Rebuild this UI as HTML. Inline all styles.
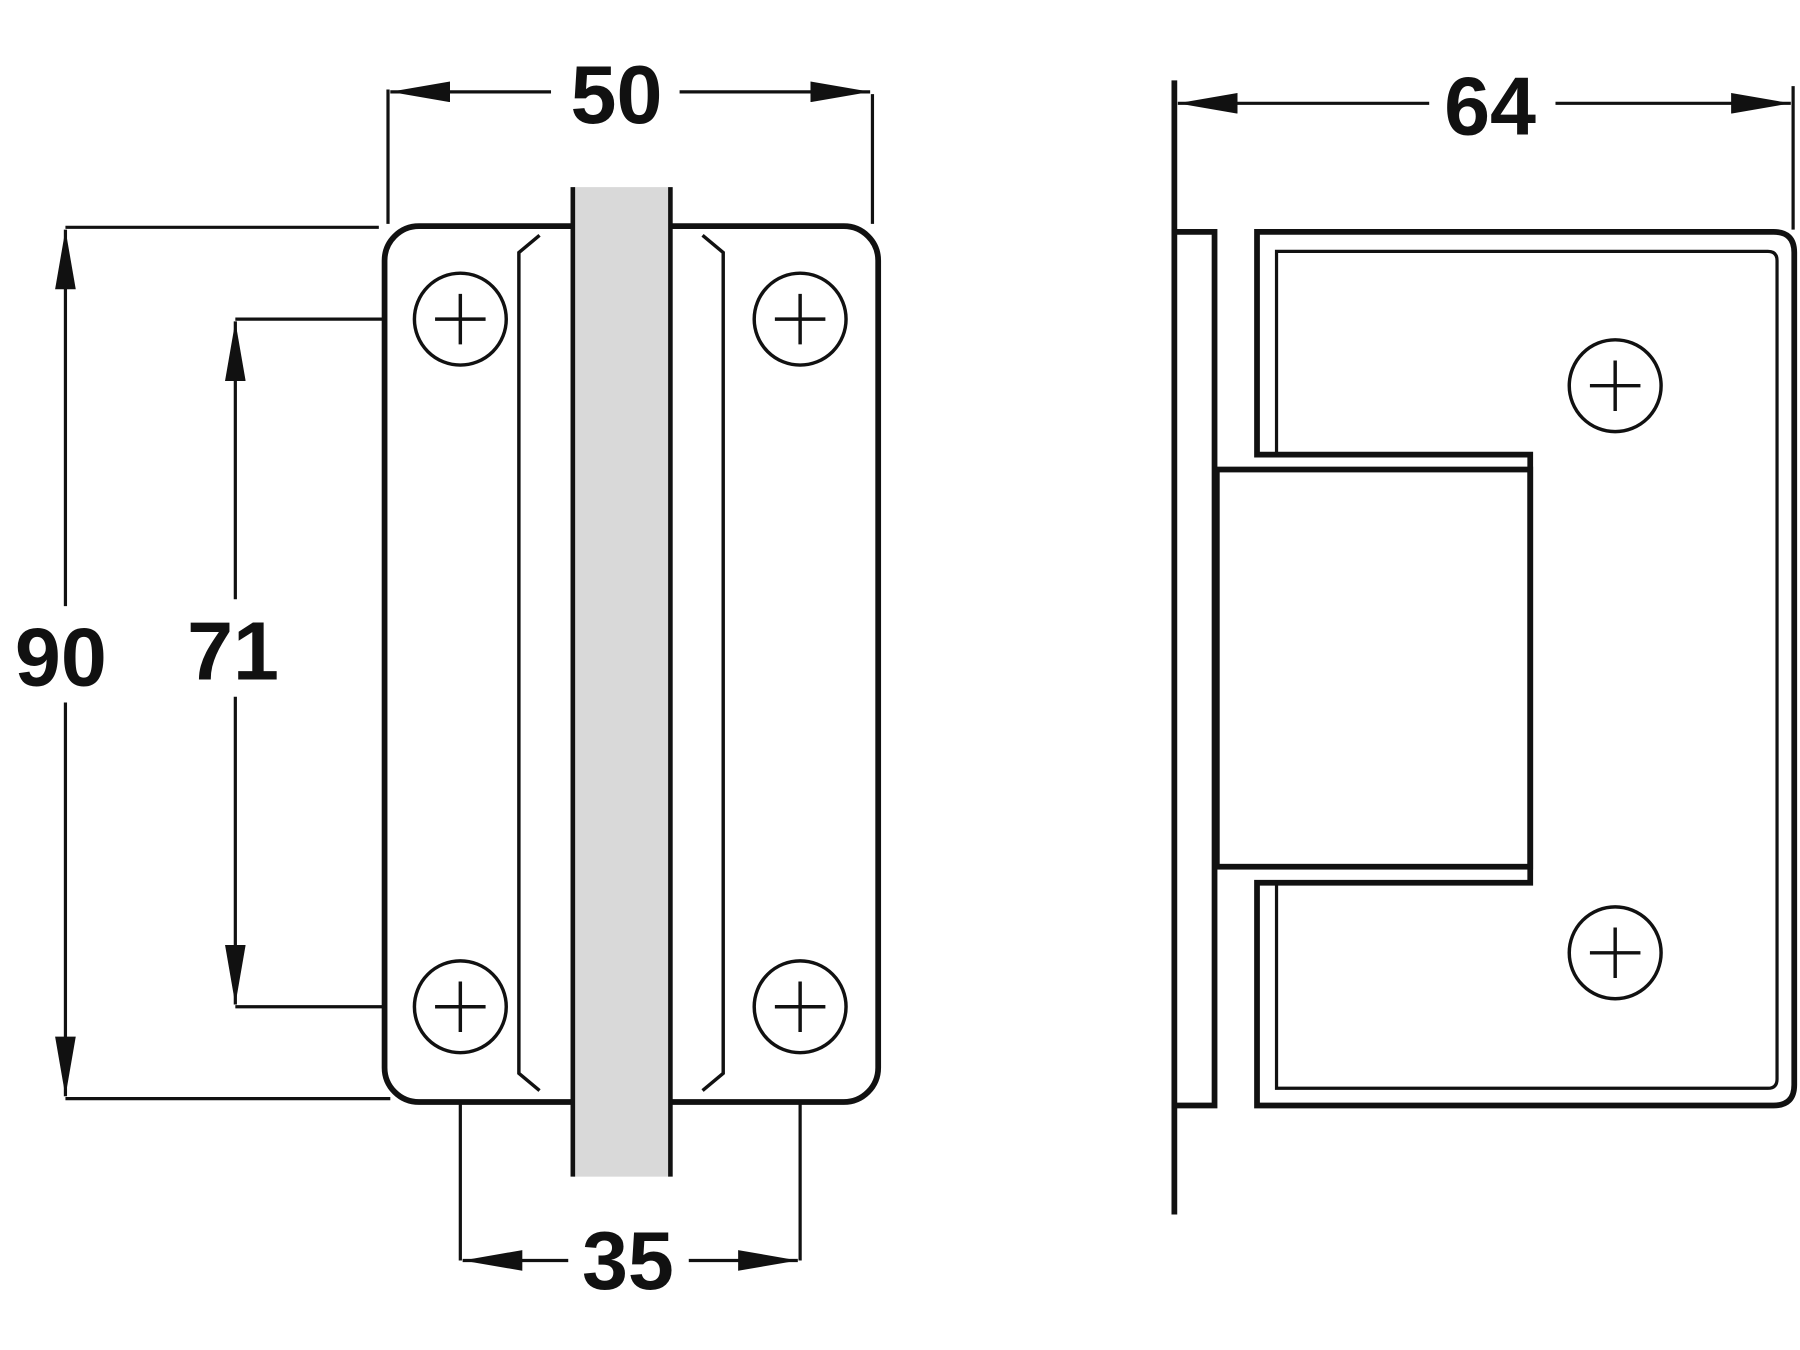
<!DOCTYPE html>
<html><head><meta charset="utf-8"><style>
html,body{margin:0;padding:0;background:#fff;}
svg{display:block;}
text{font-family:"Liberation Sans",sans-serif;font-weight:bold;fill:#111;}
</style></head><body>
<svg width="1800" height="1350" viewBox="0 0 1568 1176" xmlns="http://www.w3.org/2000/svg">
<defs>
<marker id="a" viewBox="0 0 52 18" refX="52" refY="9" markerWidth="52" markerHeight="18" markerUnits="userSpaceOnUse" orient="auto-start-reverse"><path d="M0,0 L52,9 L0,18 Z" fill="#111"/></marker>
<g id="scr"><circle r="40" fill="#fff" stroke="#111" stroke-width="3"/><path d="M-22,0H22M0,-22V22" stroke="#111" stroke-width="3"/></g>
</defs>
<g stroke="#111" fill="none" stroke-width="2.8">
<line x1="338" y1="78" x2="338" y2="195"/><line x1="760" y1="82" x2="760" y2="195"/>
<line x1="340" y1="80" x2="480" y2="80" marker-start="url(#a)"/>
<line x1="592" y1="80" x2="758" y2="80" marker-end="url(#a)"/>
<line x1="57" y1="198" x2="330" y2="198"/><line x1="57" y1="957" x2="340" y2="957"/>
<line x1="57" y1="200" x2="57" y2="528" marker-start="url(#a)"/>
<line x1="57" y1="612" x2="57" y2="955" marker-end="url(#a)"/>
<line x1="205" y1="278" x2="340" y2="278"/><line x1="205" y1="877" x2="345" y2="877"/>
<line x1="205" y1="280" x2="205" y2="522" marker-start="url(#a)"/>
<line x1="205" y1="607" x2="205" y2="875" marker-end="url(#a)"/>
<line x1="401" y1="935" x2="401" y2="1098"/><line x1="697" y1="935" x2="697" y2="1098"/>
<line x1="403" y1="1098" x2="495" y2="1098" marker-start="url(#a)"/>
<line x1="600" y1="1098" x2="695" y2="1098" marker-end="url(#a)"/>
<line x1="1562" y1="75" x2="1562" y2="200"/>
<line x1="1026" y1="90" x2="1245" y2="90" marker-start="url(#a)"/>
<line x1="1355" y1="90" x2="1560" y2="90" marker-end="url(#a)"/>
</g>
<g font-size="72" text-anchor="middle">
<text x="537" y="107">50</text>
<text x="53" y="597">90</text>
<text x="203" y="592">71</text>
<text x="547" y="1123">35</text>
<text x="1298" y="117">64</text>
</g>
<rect x="335" y="197" width="430" height="763" rx="30" fill="#fff" stroke="#111" stroke-width="5"/>
<g stroke="#111" stroke-width="3" fill="none">
<path d="M470,205 L452,220 L452,935 L470,950"/>
<path d="M612,205 L630,220 L630,935 L612,950"/>
</g>
<rect x="499" y="163" width="85" height="862" fill="#d9d9d9"/>
<g stroke="#111" stroke-width="4"><line x1="499" y1="163" x2="499" y2="1025"/><line x1="584" y1="163" x2="584" y2="1025"/></g>
<use href="#scr" x="401" y="278"/><use href="#scr" x="697" y="278"/>
<use href="#scr" x="401" y="877"/><use href="#scr" x="697" y="877"/>
<line x1="1023" y1="70" x2="1023" y2="1058" stroke="#111" stroke-width="5"/>
<rect x="1023" y="202" width="35" height="761" fill="#fff" stroke="#111" stroke-width="5"/>
<rect x="1060" y="409" width="273" height="346" fill="#fff" stroke="#111" stroke-width="5"/>
<path d="M1095,202 H1545 Q1563,202 1563,220 V945 Q1563,963 1545,963 H1095 V769 H1333 V396 H1095 Z" fill="none" stroke="#111" stroke-width="5"/>
<path d="M1112,396 V219 H1540 Q1548,219 1548,227 V940 Q1548,948 1540,948 H1112 V769" fill="none" stroke="#111" stroke-width="2.8"/>
<use href="#scr" x="1407" y="336"/><use href="#scr" x="1407" y="830"/>
</svg>
</body></html>
